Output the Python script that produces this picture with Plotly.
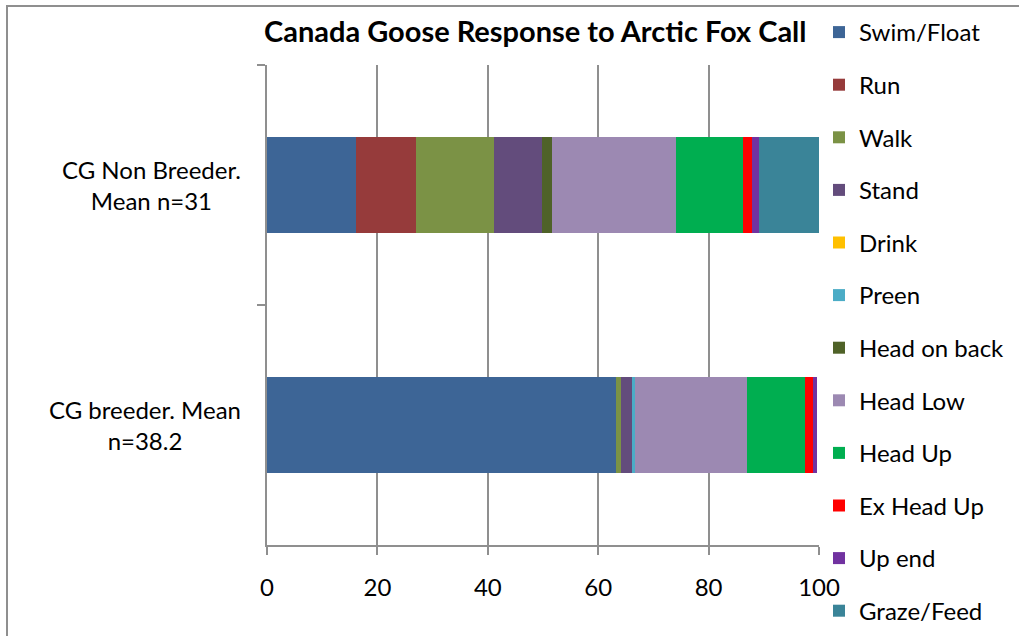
import plotly.graph_objects as go

categories = ["CG Non Breeder.<br>Mean n=31", "CG breeder. Mean<br>n=38.2"]
behaviours = ["Swim/Float", "Run", "Walk", "Stand", "Drink", "Preen",
              "Head on back", "Head Low", "Head Up", "Ex Head Up", "Up end", "Graze/Feed"]
non_breeder = [16.2, 10.8, 14.1, 8.7, 0.0, 0.0, 1.8, 22.5, 12.2, 1.5, 1.4, 10.8]
breeder = [63.3, 0.0, 0.8, 2.0, 0.0, 0.5, 0.0, 20.3, 10.5, 1.6, 0.6, 0.0]
colors = ["#3d6596", "#963b3b", "#7b9245", "#634c7c", "#ffc000", "#4bacc6",
          "#4f6228", "#9c89b2", "#00ae50", "#ff0000", "#7132a0", "#3a8498"]
x_ticks = [0, 20, 40, 60, 80, 100]

FONT = "Lato"
FS = 24

fig = go.Figure()
for i, name in enumerate(behaviours):
    fig.add_trace(go.Bar(
        y=categories, x=[non_breeder[i], breeder[i]], name=name,
        orientation="h", marker=dict(color=colors[i], line=dict(width=0)),
        legendgroup=name,
    ))

fig.update_layout(
    width=1019, height=636,
    margin=dict(l=267, r=200, t=65, b=91, autoexpand=False),
    paper_bgcolor="white", plot_bgcolor="white",
    barmode="stack", bargap=0.6,
    font=dict(family=FONT, size=FS, color="black"),
    title=dict(text="<b>Canada Goose Response to Arctic Fox Call</b>",
               x=0.486, xref="paper", xanchor="center",
               y=1 - 32 / 636, yref="container", yanchor="middle",
               font=dict(family=FONT, size=29, color="black")),
    legend=dict(x=1.0, xanchor="left", yref="container",
                y=1 - 10 / 636, yanchor="top", maxheight=1,
                traceorder="grouped", tracegroupgap=18.4,
                font=dict(family=FONT, size=FS, color="black"),
                bgcolor="rgba(0,0,0,0)"),
    showlegend=True,
)
fig.update_xaxes(range=[0, 100], tickvals=x_ticks, showgrid=True,
                 gridcolor="#8f8f8f", gridwidth=2, showline=True,
                 linecolor="#8f8f8f", linewidth=2, ticks="outside", ticklen=8,
                 tickcolor="#8f8f8f", tickwidth=2, zeroline=False,
                 ticklabelstandoff=12, tickfont=dict(size=FS))
fig.update_yaxes(autorange="reversed", showline=True, linecolor="#8f8f8f",
                 linewidth=2, ticks="outside", ticklen=8, tickcolor="#8f8f8f",
                 tickwidth=2, tickson="boundaries", showticklabels=False,
                 showgrid=False)

for cat in categories:
    fig.add_annotation(x=0, xref="paper", y=cat, yref="y", text=cat,
                       showarrow=False, xanchor="right", xshift=-24,
                       align="center", font=dict(family=FONT, size=FS))

# outer chart frame
fig.add_shape(type="rect", xref="paper", yref="paper",
              x0=(7 - 267) / 552, x1=(1030 - 267) / 552,
              y0=(545 - 650) / 480, y1=(545 - 6) / 480,
              line=dict(color="#8f8f8f", width=2), layer="below")

fig.write_html("out.html")
